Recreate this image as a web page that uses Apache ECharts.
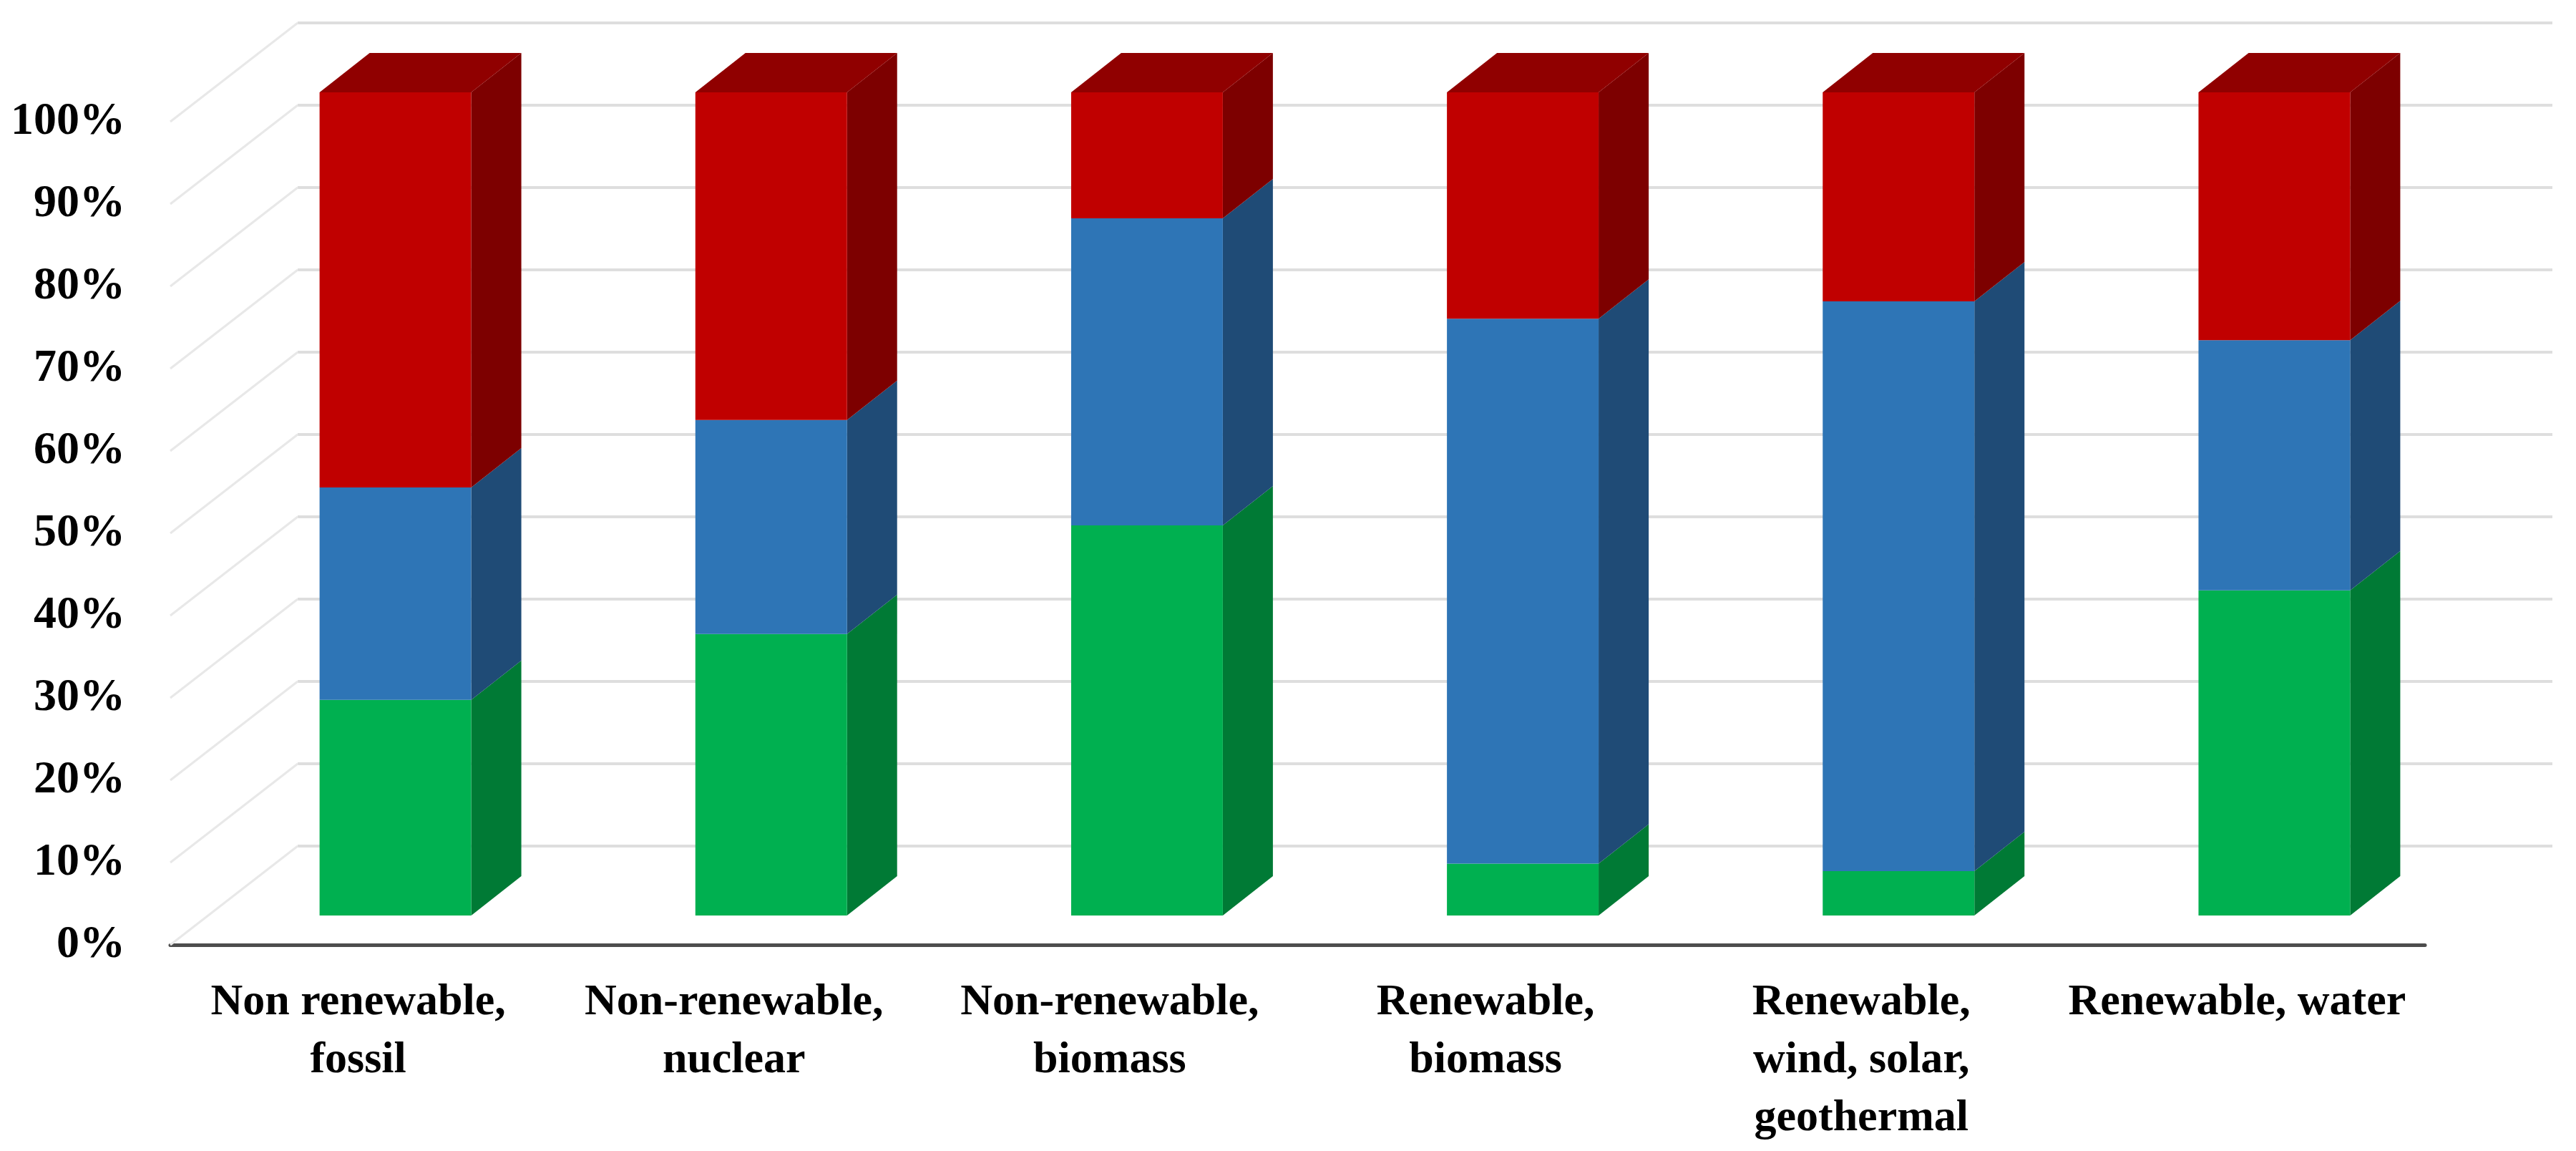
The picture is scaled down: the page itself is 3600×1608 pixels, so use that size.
<!DOCTYPE html>
<html>
<head>
<meta charset="utf-8">
<script src="https://cdn.jsdelivr.net/npm/echarts@6/dist/echarts.min.js"></script>
<style>
html,body{margin:0;padding:0;background:#fff;}
#main{width:3600px;height:1608px;}
</style>
</head>
<body>
<div id="main"></div>
<script>
// ---- data ----
const categories = [
  'Non renewable,\nfossil',
  'Non-renewable,\nnuclear',
  'Non-renewable,\nbiomass',
  'Renewable,\nbiomass',
  'Renewable,\nwind, solar,\ngeothermal',
  'Renewable, water'
];
const greenShare = [26.2, 34.2, 47.4, 6.3, 5.4, 39.5];
const blueShare  = [25.8, 26.0, 37.3, 66.2, 69.2, 30.4];
const redShare   = [48.0, 39.8, 15.3, 27.5, 25.4, 30.1];
const yTicks = [0, 10, 20, 30, 40, 50, 60, 70, 80, 90, 100];

// ---- 3D look (pixel styling) ----
const WALL_DX = 178, WALL_DY = 138;   // front plane -> back wall
const BAR_OFF_X = 52, BAR_OFF_Y = 41; // front plane -> bar front face
const BAR_DX = 70, BAR_DY = 55;       // bar depth
const BAR_W_RATIO = 0.4036;

const palette = {
  green: {front: '#00B050', side: '#007A35', top: '#008C3C'},
  blue:  {front: '#2E75B6', side: '#1F4B76', top: '#255F95'},
  red:   {front: '#C00000', side: '#7D0000', top: '#900000'}
};

function stackData(vals, base) {
  return vals.map((v, i) => [i, base[i], base[i] + v]);
}
const base0 = categories.map(() => 0);
const base1 = greenShare.map((v, i) => base0[i] + v);
const base2 = blueShare.map((v, i) => base1[i] + v);

function barRender(col, drawTop) {
  return function (params, api) {
    const i = api.value(0), lo = api.value(1), hi = api.value(2);
    const pLo = api.coord([i, lo]);
    const pHi = api.coord([i, hi]);
    const band = api.size([1, 0])[0];
    const w = band * BAR_W_RATIO;
    const cx = pLo[0] + BAR_OFF_X;
    const yB = pLo[1] - BAR_OFF_Y;
    const yT = pHi[1] - BAR_OFF_Y;
    const xl = cx - w / 2, xr = cx + w / 2;
    const children = [
      {type: 'polygon', shape: {points: [[xr, yT], [xr + BAR_DX, yT - BAR_DY], [xr + BAR_DX, yB - BAR_DY], [xr, yB]]},
       style: {fill: col.side}},
      {type: 'rect', shape: {x: xl, y: yT, width: w, height: yB - yT}, style: {fill: col.front}}
    ];
    if (drawTop) {
      children.push({type: 'polygon', shape: {points: [[xl, yT], [xl + BAR_DX, yT - BAR_DY], [xr + BAR_DX, yT - BAR_DY], [xr, yT]]},
        style: {fill: col.top}});
    }
    return {type: 'group', children};
  };
}

function gridRender(params, api) {
  const v = api.value(1);
  const p = api.coord([0, v]);
  const cs = params.coordSys;
  const x0 = cs.x, x1 = cs.x + cs.width, y = p[1];
  return {
    type: 'group',
    children: [
      {type: 'line', shape: {x1: x0 + WALL_DX, y1: y - WALL_DY, x2: x1 + WALL_DX, y2: y - WALL_DY},
       style: {stroke: '#dedede', lineWidth: 4}},
      {type: 'line', shape: {x1: x0, y1: y, x2: x0 + WALL_DX, y2: y - WALL_DY},
       style: {stroke: '#e8e8e8', lineWidth: 3}}
    ]
  };
}

const chart = echarts.init(document.getElementById('main'), null, {renderer: 'canvas'});
const fontFam = 'Liberation Serif';
chart.setOption({
  animation: false,
  backgroundColor: '#ffffff',
  grid: {left: 238, right: 211, top: 170, bottom: 288, containLabel: false},
  xAxis: {
    type: 'category',
    data: categories,
    axisLine: {show: true, lineStyle: {color: '#4d4d4d', width: 5}},
    axisTick: {show: false},
    splitLine: {show: false},
    axisLabel: {
      interval: 0, margin: 40, color: '#000', fontFamily: fontFam, fontWeight: 'bold',
      fontSize: 62, lineHeight: 81, align: 'center'
    }
  },
  yAxis: {
    type: 'value', min: 0, max: 100, interval: 10,
    axisLine: {show: false}, axisTick: {show: false}, splitLine: {show: false},
    axisLabel: {
      formatter: v => v + '%', margin: 63, color: '#000',
      fontFamily: fontFam, fontWeight: 'bold', fontSize: 64
    }
  },
  series: [
    {type: 'custom', name: 'grid', z: 1, clip: false, silent: true,
     data: yTicks.map(v => [0, v]), encode: {x: 0, y: 1}, renderItem: gridRender},
    {type: 'custom', name: 'green', z: 3, clip: false,
     data: stackData(greenShare, base0), encode: {x: 0, y: [1, 2]}, renderItem: barRender(palette.green, false)},
    {type: 'custom', name: 'blue', z: 3, clip: false,
     data: stackData(blueShare, base1), encode: {x: 0, y: [1, 2]}, renderItem: barRender(palette.blue, false)},
    {type: 'custom', name: 'red', z: 3, clip: false,
     data: stackData(redShare, base2), encode: {x: 0, y: [1, 2]}, renderItem: barRender(palette.red, true)}
  ]
});
</script>
</body>
</html>
